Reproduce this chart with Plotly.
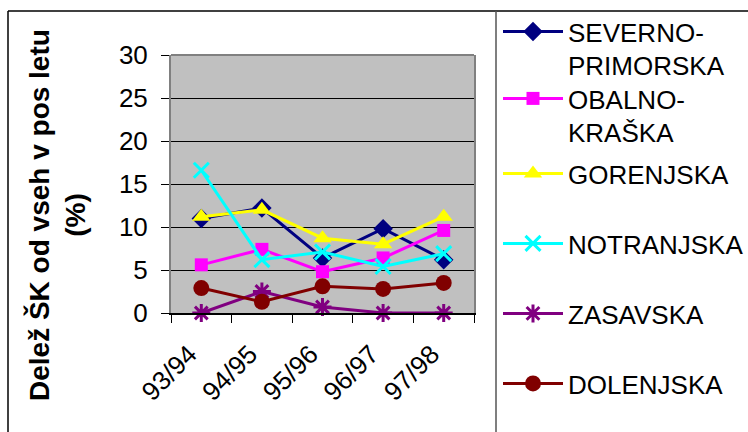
import plotly.graph_objects as go

categories = ["93/94", "94/95", "95/96", "96/97", "97/98"]
severno = [11.0, 12.2, 6.4, 9.8, 6.2]
obalno = [5.6, 7.4, 4.8, 6.4, 9.6]
gorenjska = [11.2, 12.0, 8.7, 8.0, 11.2]
notranjska = [16.6, 6.2, 7.1, 5.4, 6.9]
zasavska = [0.0, 2.5, 0.7, 0.0, 0.0]
dolenjska = [2.9, 1.3, 3.1, 2.8, 3.5]

names = ["SEVERNO-<br>PRIMORSKA", "OBALNO-<br>KRAŠKA", "GORENJSKA", "NOTRANJSKA", "ZASAVSKA", "DOLENJSKA"]
series = [severno, obalno, gorenjska, notranjska, zasavska, dolenjska]
colors = ["#000080", "#FF00FF", "#FFFF00", "#00FFFF", "#800080", "#800000"]
symbols = ["diamond", "square", "triangle-up", "x-thin-open", "asterisk-open", "circle"]
sizes = [15, 13, 16, 15, 15, 16]
legend_ids = ["legend", "legend2", "legend3", "legend4", "legend5", "legend6"]
legend_tops = [30, 97, 172, 242, 312, 382]

W, H = 748, 432
L, R, T, B = 171, 274, 55, 119

fig = go.Figure()
for nm, ys, c, s, sz, lg in zip(names, series, colors, symbols, sizes, legend_ids):
    open_sym = s.endswith("open")
    fig.add_trace(go.Scatter(
        x=categories, y=ys, name=nm, mode="lines+markers",
        line=dict(color=c, width=3),
        marker=dict(symbol=s, size=sz, color=c,
                    line=dict(color=c, width=3 if open_sym else 0)),
        cliponaxis=False, legend=lg,
    ))

layout_legends = {}
for lg, py in zip(legend_ids, legend_tops):
    layout_legends[lg] = dict(
        xref="container", yref="container",
        x=498 / W, y=1 - (py - 22) / H, xanchor="left", yanchor="top",
        font=dict(family="Liberation Sans, Arial, sans-serif", size=26, color="black"),
        bgcolor="rgba(0,0,0,0)", borderwidth=0, valign="top",
        itemwidth=60,
    )

def px_x(p):
    return (p - L) / (W - L - R)

def px_y(p):
    return (H - B - p) / (H - T - B)

shapes = [
    dict(type="line", xref="paper", yref="paper", x0=px_x(8), x1=px_x(760), y0=px_y(11), y1=px_y(11),
         line=dict(color="black", width=1.5)),
    dict(type="line", xref="paper", yref="paper", x0=px_x(8), x1=px_x(8), y0=px_y(11), y1=px_y(440),
         line=dict(color="black", width=1.5)),
    dict(type="line", xref="paper", yref="paper", x0=px_x(496), x1=px_x(496), y0=px_y(11), y1=px_y(440),
         line=dict(color="#555555", width=1.5)),
    dict(type="line", xref="paper", yref="paper", x0=0, x1=1, y0=1, y1=1,
         line=dict(color="#808080", width=2)),
]

fig.update_layout(
    width=W, height=H,
    margin=dict(l=L, r=R, t=T, b=B, autoexpand=False),
    paper_bgcolor="white", plot_bgcolor="#C0C0C0",
    font=dict(family="Liberation Sans, Arial, sans-serif", size=26, color="black"),
    showlegend=True,
    shapes=shapes,
    xaxis=dict(
        type="category", range=[-0.5, 4.5], tickson="boundaries",
        ticks="outside", ticklen=8, tickcolor="black", tickwidth=1,
        showline=True, linecolor="black", linewidth=1.5,
        showgrid=False, tickangle=-45, ticklabelstandoff=14, ticklabelshift=-12,
        tickfont=dict(size=26),
    ),
    yaxis=dict(
        range=[0, 30], dtick=5, tick0=0,
        ticks="outside", ticklen=8, tickcolor="black", tickwidth=1,
        showline=True, linecolor="#808080", linewidth=2, mirror=True,
        showgrid=True, gridcolor="black", gridwidth=1, zeroline=False,
        tickfont=dict(size=26), ticklabelstandoff=8,
    ),
    annotations=[
        dict(text="<b>Delež ŠK od vseh v pos letu<br>(%)</b>", xref="paper", yref="paper",
             x=px_x(57), y=px_y(215), xanchor="center", yanchor="middle",
             textangle=-90, showarrow=False,
             font=dict(size=28, color="black", family="Liberation Sans, Arial, sans-serif")),
    ],
    **layout_legends,
)

fig.write_html("out.html", config={"displayModeBar": False},
               post_script="document.body.style.margin='0px';document.body.style.overflow='hidden';")
